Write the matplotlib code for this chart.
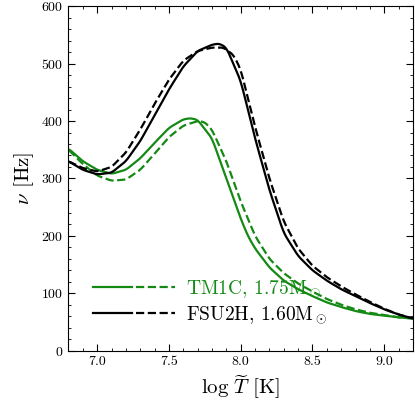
import matplotlib
matplotlib.use("Agg")
import matplotlib.pyplot as plt
from matplotlib.legend_handler import HandlerTuple
import numpy as np

plt.rcParams['mathtext.fontset'] = 'cm'
plt.rcParams['font.family'] = ['cmr10', 'DejaVu Serif']
plt.rcParams['axes.formatter.use_mathtext'] = True

x_fsu_s = [6.8,6.9,7.0,7.1,7.2,7.3,7.4,7.5,7.6,7.7,7.8,7.85,7.9,8.0,8.05,8.1,8.2,8.3,8.4,8.5,8.6,8.7,8.8,8.9,9.0,9.1,9.2]
y_fsu_s = [330,315,307,310,330,365,410,455,495,522,533,535,528,470,420,370,280,205,165,140,122,107,95,83,72,63,56]
x_fsu_d = [6.8,6.9,7.0,7.1,7.2,7.3,7.4,7.5,7.6,7.7,7.8,7.88,7.95,8.0,8.1,8.2,8.3,8.4,8.5,8.6,8.7,8.8,8.9,9.0,9.1,9.2]
y_fsu_d = [330,318,312,320,345,385,430,472,505,522,528,528,515,490,390,300,225,178,148,128,112,98,85,73,63,56]
x_tm_s = [6.8,6.9,7.0,7.1,7.2,7.3,7.4,7.5,7.6,7.65,7.7,7.8,7.9,8.0,8.05,8.1,8.2,8.3,8.4,8.5,8.6,8.7,8.8,8.9,9.0,9.1,9.2]
y_tm_s = [352,330,315,308,315,335,362,388,403,405,402,370,300,230,200,178,145,122,107,95,84,76,69,64,61,58,56]
x_tm_d = [6.8,6.9,7.0,7.1,7.2,7.3,7.4,7.5,7.6,7.7,7.75,7.8,7.9,8.0,8.1,8.2,8.3,8.4,8.5,8.6,8.7,8.8,8.9,9.0,9.1,9.2]
y_tm_d = [350,325,305,296,298,315,343,372,392,400,398,385,330,260,200,160,135,117,103,90,80,72,66,62,58,56]

def smooth(x, y):
    x = np.asarray(x, float); y = np.asarray(y, float)
    xs = np.linspace(x[0], x[-1], 600)
    ys = np.interp(xs, x, y)
    n = 11
    k = np.ones(n) / n
    pad = np.pad(ys, n // 2, mode='edge')
    return xs, np.convolve(pad, k, mode='valid')

green = '#148a14'
fig = plt.figure(figsize=(4.15, 4.15), dpi=100)
ax = fig.add_axes([0.165, 0.155, 0.83, 0.83])
l1, = ax.plot(*smooth(x_tm_s, y_tm_s), color=green, lw=1.6)
l2, = ax.plot(*smooth(x_tm_d, y_tm_d), color=green, lw=1.6, ls='--')
l3, = ax.plot(*smooth(x_fsu_s, y_fsu_s), color='black', lw=1.6)
l4, = ax.plot(*smooth(x_fsu_d, y_fsu_d), color='black', lw=1.6, ls='--')

ax.set_xlim(6.8, 9.2)
ax.set_ylim(0, 600)
ax.set_xticks([7.0, 7.5, 8.0, 8.5, 9.0])
ax.set_xticklabels(['7.0', '7.5', '8.0', '8.5', '9.0'])
ax.set_yticks(range(0, 601, 100))
ax.minorticks_on()
ax.tick_params(which='both', direction='in', top=True, right=True, labelsize=10)
ax.tick_params(which='major', length=5)
ax.tick_params(which='minor', length=2.5)
ax.set_xlabel(r'$\log\,\widetilde{T}$ [K]', fontsize=15)
ax.set_ylabel(r'$\nu$ [Hz]', fontsize=15)

leg = ax.legend([(l1, l2), (l3, l4)],
                [r'TM1C, 1.75M$_\odot$', r'FSU2H, 1.60M$_\odot$'],
                handler_map={tuple: HandlerTuple(ndivide=None, pad=0.2)},
                handlelength=4.2, handletextpad=0.6, frameon=False, loc='lower left',
                bbox_to_anchor=(0.02, 0.02), fontsize=14, labelspacing=0.25)
leg.get_texts()[0].set_color(green)
fig.savefig('out.png', dpi=100)
